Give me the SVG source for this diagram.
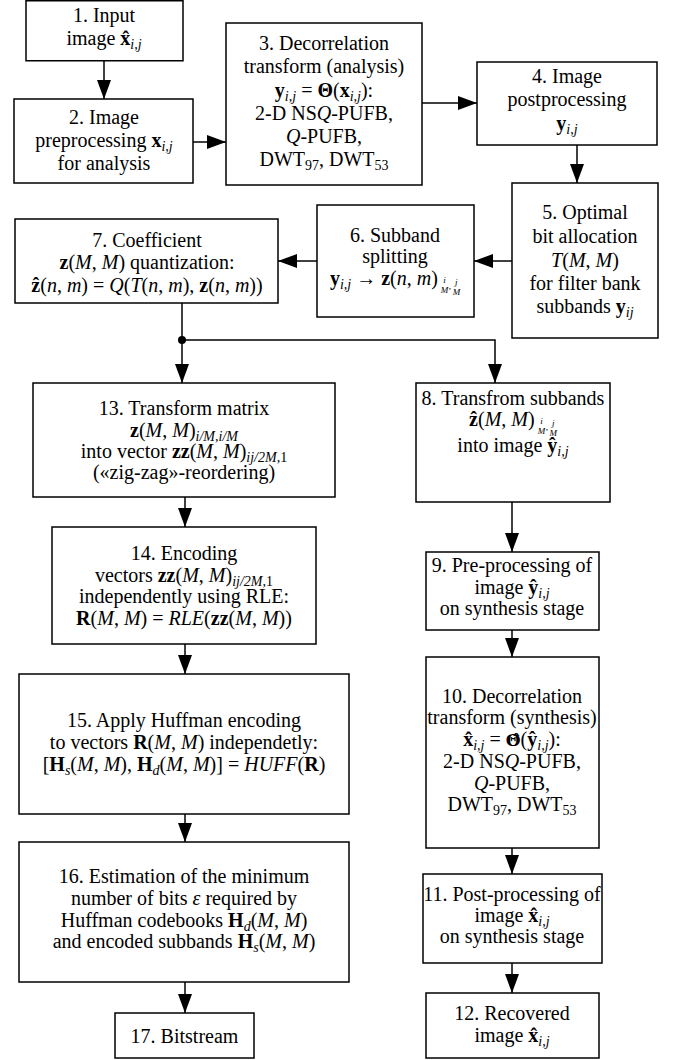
<svg xmlns="http://www.w3.org/2000/svg" width="676" height="1060" viewBox="0 0 676 1060">
<style>
.box{fill:#fff;stroke:#000;stroke-width:1.5}
.c{fill:none;stroke:#000;stroke-width:1.5}
.t{font-family:"Liberation Serif","Times New Roman",serif;font-size:20px;text-anchor:middle;fill:#000}
.i{font-style:italic}
.b{font-weight:bold}
.s{font-size:14px;font-style:italic}
.sn{font-size:14px}
.f{font-size:9px;font-style:italic}
.th{font-family:"DejaVu Serif",serif;font-size:17px;font-weight:bold}
</style>
<defs>
<marker id="ah" markerUnits="userSpaceOnUse" markerWidth="20" markerHeight="16" refX="19" refY="7" orient="auto"><path d="M0,0 L19,7 L0,14 z" fill="#000"/></marker>
</defs>
<rect width="676" height="1060" fill="#fff"/>
<g id="connectors">
<path class="c" d="M104,61 V99" marker-end="url(#ah)"/>
<path class="c" d="M193,142 H226" marker-end="url(#ah)"/>
<path class="c" d="M422,103 H477" marker-end="url(#ah)"/>
<path class="c" d="M577,145 V183" marker-end="url(#ah)"/>
<path class="c" d="M512,261 H474" marker-end="url(#ah)"/>
<path class="c" d="M317,261 H278" marker-end="url(#ah)"/>
<path class="c" d="M182,303 V340"/>
<circle cx="182" cy="340" r="4" fill="#000"/>
<path class="c" d="M182,340 V383" marker-end="url(#ah)"/>
<path class="c" d="M182,340 H495 V383" marker-end="url(#ah)"/>
<path class="c" d="M185,497 V527" marker-end="url(#ah)"/>
<path class="c" d="M185,644 V674" marker-end="url(#ah)"/>
<path class="c" d="M185,814 V842" marker-end="url(#ah)"/>
<path class="c" d="M185,982 V1013" marker-end="url(#ah)"/>
<path class="c" d="M512,502 V552" marker-end="url(#ah)"/>
<path class="c" d="M512,630 V657" marker-end="url(#ah)"/>
<path class="c" d="M512,848 V874" marker-end="url(#ah)"/>
<path class="c" d="M512,963 V993" marker-end="url(#ah)"/>
</g>
<g id="n1">
<rect class="box" x="26" y="0.75" width="157" height="60"/>
<text class="t" x="104" y="22">1. Input</text>
<text class="t" x="104" y="45">image <tspan class="b">x̂</tspan><tspan class="s" dy="4">i,j</tspan></text>
</g>
<g id="n2">
<rect class="box" x="14" y="99" width="179" height="84"/>
<text class="t" x="104" y="124">2. Image</text>
<text class="t" x="104" y="147">preprocessing <tspan class="b">x</tspan><tspan class="s" dy="4">i,j</tspan></text>
<text class="t" x="104" y="170">for analysis</text>
</g>
<g id="n3">
<rect class="box" x="226" y="23" width="196" height="162"/>
<text class="t" x="324" y="50">3. Decorrelation</text>
<text class="t" x="324" y="73">transform (analysis)</text>
<text class="t" x="324" y="97"><tspan class="b">y</tspan><tspan class="s" dy="4">i,j</tspan><tspan dy="-4"> = </tspan><tspan class="b">Θ</tspan>(<tspan class="b">x</tspan><tspan class="s" dy="4">i,j</tspan><tspan dy="-4">):</tspan></text>
<text class="t" x="324" y="120">2-D NS<tspan class="i">Q</tspan>-PUFB,</text>
<text class="t" x="324" y="143"><tspan class="i">Q</tspan>-PUFB,</text>
<text class="t" x="324" y="166">DWT<tspan class="sn" dy="4">97</tspan><tspan dy="-4">, DWT</tspan><tspan class="sn" dy="4">53</tspan></text>
</g>
<g id="n4">
<rect class="box" x="477" y="62" width="180" height="83"/>
<text class="t" x="567" y="83">4. Image</text>
<text class="t" x="567" y="106">postprocessing</text>
<text class="t" x="567" y="130"><tspan class="b">y</tspan><tspan class="s" dy="4">i,j</tspan></text>
</g>
<g id="n5">
<rect class="box" x="512" y="183" width="146" height="155"/>
<text class="t" x="585" y="219">5. Optimal</text>
<text class="t" x="585" y="243">bit allocation</text>
<text class="t" x="585" y="267"><tspan class="i">T</tspan>(<tspan class="i">M</tspan>, <tspan class="i">M</tspan>)</text>
<text class="t" x="585" y="290">for filter bank</text>
<text class="t" x="585" y="313">subbands <tspan class="b">y</tspan><tspan class="s" dy="4">ij</tspan></text>
</g>
<g id="n6">
<rect class="box" x="317" y="205" width="157" height="112"/>
<text class="t" x="395" y="242">6. Subband</text>
<text class="t" x="395" y="263">splitting</text>
<text class="t" x="395" y="285"><tspan class="b">y</tspan><tspan class="s" dy="4">i,j</tspan><tspan dy="-4"> → </tspan><tspan class="b">z</tspan>(<tspan class="i">n</tspan>, <tspan class="i">m</tspan>)<tspan class="f" dx="5.5" dy="-2">i</tspan><tspan class="f" dx="-5" dy="10">M</tspan><tspan class="f" dx="0.5" dy="-4">,</tspan><tspan class="f" dx="4" dy="-4">j</tspan><tspan class="f" dx="-5" dy="10">M</tspan></text>
</g>
<g id="n7">
<rect class="box" x="15" y="219" width="263" height="84"/>
<text class="t" x="147" y="247">7. Coefficient</text>
<text class="t" x="147" y="269"><tspan class="b">z</tspan>(<tspan class="i">M</tspan>, <tspan class="i">M</tspan>) quantization:</text>
<text class="t" x="147" y="292"><tspan class="b">ẑ</tspan>(<tspan class="i">n</tspan>, <tspan class="i">m</tspan>) = <tspan class="i">Q</tspan>(<tspan class="i">T</tspan>(<tspan class="i">n</tspan>, <tspan class="i">m</tspan>), <tspan class="b">z</tspan>(<tspan class="i">n</tspan>, <tspan class="i">m</tspan>))</text>
</g>
<g id="n13">
<rect class="box" x="33" y="383" width="302" height="114"/>
<text class="t" x="184" y="415">13. Transform matrix</text>
<text class="t" x="184" y="437"><tspan class="b">z</tspan>(<tspan class="i">M</tspan>, <tspan class="i">M</tspan>)<tspan class="s" dy="4">i/M,i/M</tspan></text>
<text class="t" x="184" y="458">into vector <tspan class="b">zz</tspan>(<tspan class="i">M</tspan>, <tspan class="i">M</tspan>)<tspan class="s" dy="4">ij/2M,</tspan><tspan class="sn">1</tspan></text>
<text class="t" x="184" y="479">(«zig-zag»-reordering)</text>
</g>
<g id="n8">
<rect class="box" x="416" y="383" width="194" height="119"/>
<text class="t" x="513" y="405">8. Transfrom subbands</text>
<text class="t" x="513" y="426"><tspan class="b">ẑ</tspan>(<tspan class="i">M</tspan>, <tspan class="i">M</tspan>)<tspan class="f" dx="5.5" dy="-2">i</tspan><tspan class="f" dx="-5" dy="10">M</tspan><tspan class="f" dx="0.5" dy="-4">,</tspan><tspan class="f" dx="4" dy="-4">j</tspan><tspan class="f" dx="-5" dy="10">M</tspan></text>
<text class="t" x="513" y="452">into image <tspan class="b">ŷ</tspan><tspan class="s" dy="4">i,j</tspan></text>
</g>
<g id="n14">
<rect class="box" x="52" y="527" width="264" height="117"/>
<text class="t" x="184" y="560">14. Encoding</text>
<text class="t" x="184" y="582">vectors <tspan class="b">zz</tspan>(<tspan class="i">M</tspan>, <tspan class="i">M</tspan>)<tspan class="s" dy="4">ij/2M,</tspan><tspan class="sn">1</tspan></text>
<text class="t" x="184" y="603">independently using RLE:</text>
<text class="t" x="184" y="625"><tspan class="b">R</tspan>(<tspan class="i">M</tspan>, <tspan class="i">M</tspan>) = <tspan class="i">RLE</tspan>(<tspan class="b">zz</tspan>(<tspan class="i">M</tspan>, <tspan class="i">M</tspan>))</text>
</g>
<g id="n15">
<rect class="box" x="19" y="674" width="330" height="140"/>
<text class="t" x="184" y="727">15. Apply Huffman encoding</text>
<text class="t" x="184" y="749">to vectors <tspan class="b">R</tspan>(<tspan class="i">M</tspan>, <tspan class="i">M</tspan>) independetly:</text>
<text class="t" x="184" y="771">[<tspan class="b">H</tspan><tspan class="s" dy="4">s</tspan><tspan dy="-4">(</tspan><tspan class="i">M</tspan>, <tspan class="i">M</tspan>), <tspan class="b">H</tspan><tspan class="s" dy="4">d</tspan><tspan dy="-4">(</tspan><tspan class="i">M</tspan>, <tspan class="i">M</tspan>)] = <tspan class="i">HUFF</tspan>(<tspan class="b">R</tspan>)</text>
</g>
<g id="n16">
<rect class="box" x="19" y="842" width="330" height="140"/>
<text class="t" x="184" y="883">16. Estimation of the minimum</text>
<text class="t" x="184" y="905">number of bits <tspan class="i">ε</tspan> required by</text>
<text class="t" x="184" y="927">Huffman codebooks <tspan class="b">H</tspan><tspan class="s" dy="4">d</tspan><tspan dy="-4">(</tspan><tspan class="i">M</tspan>, <tspan class="i">M</tspan>)</text>
<text class="t" x="184" y="948">and encoded subbands <tspan class="b">H</tspan><tspan class="s" dy="4">s</tspan><tspan dy="-4">(</tspan><tspan class="i">M</tspan>, <tspan class="i">M</tspan>)</text>
</g>
<g id="n17">
<rect class="box" x="115" y="1013" width="139" height="45"/>
<text class="t" x="184.5" y="1043">17. Bitstream</text>
</g>
<g id="n9">
<rect class="box" x="426" y="552" width="173" height="78"/>
<text class="t" x="512" y="572">9. Pre-processing of</text>
<text class="t" x="512" y="594">image <tspan class="b">ŷ</tspan><tspan class="s" dy="4">i,j</tspan></text>
<text class="t" x="512" y="615">on synthesis stage</text>
</g>
<g id="n10">
<rect class="box" x="426" y="657" width="173" height="191"/>
<text class="t" x="512" y="703">10. Decorrelation</text>
<text class="t" x="512" y="724">transform (synthesis)</text>
<text class="t" x="512" y="746"><tspan class="b">x̂</tspan><tspan class="s" dy="4">i,j</tspan><tspan dy="-4"> = </tspan><tspan class="th">Θ̂</tspan>(<tspan class="b">ŷ</tspan><tspan class="s" dy="4">i,j</tspan><tspan dy="-4">):</tspan></text>
<text class="t" x="512" y="768">2-D NS<tspan class="i">Q</tspan>-PUFB,</text>
<text class="t" x="512" y="790"><tspan class="i">Q</tspan>-PUFB,</text>
<text class="t" x="512" y="811">DWT<tspan class="sn" dy="4">97</tspan><tspan dy="-4">, DWT</tspan><tspan class="sn" dy="4">53</tspan></text>
</g>
<g id="n11">
<rect class="box" x="423" y="874" width="179" height="89"/>
<text class="t" x="512" y="901">11. Post-processing of</text>
<text class="t" x="512" y="922">image <tspan class="b">x̂</tspan><tspan class="s" dy="4">i,j</tspan></text>
<text class="t" x="512" y="943">on synthesis stage</text>
</g>
<g id="n12">
<rect class="box" x="426" y="993" width="173" height="65"/>
<text class="t" x="512" y="1020">12. Recovered</text>
<text class="t" x="512" y="1042">image <tspan class="b">x̂</tspan><tspan class="s" dy="4">i,j</tspan></text>
</g>
</svg>
